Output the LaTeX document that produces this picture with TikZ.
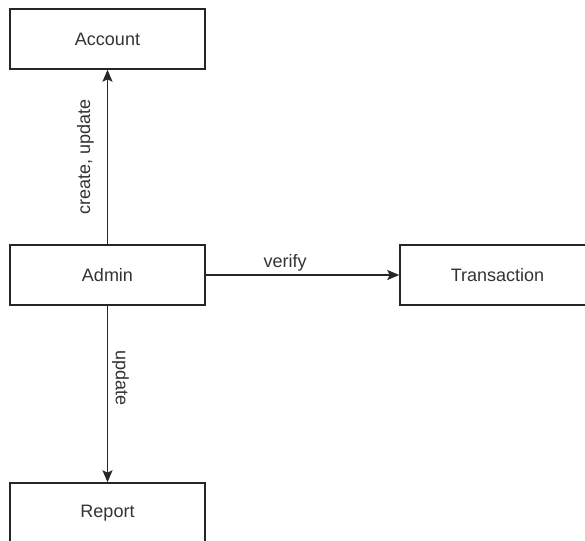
\documentclass[tikz,border=0pt]{standalone}
\usepackage{fontspec}
\setmainfont{Liberation Sans}
\usetikzlibrary{arrows.meta}
\definecolor{linegray}{HTML}{262626}
\definecolor{textgray}{HTML}{333333}
\begin{document}
\begin{tikzpicture}[x=1pt,y=-1pt,
  box/.style={draw=linegray, line width=1.5pt, minimum width=195pt, minimum height=60pt, inner sep=0pt, font=\fontsize{18}{20}\selectfont, text=textgray},
  conn/.style={draw=linegray, line width=1.5pt, -{Stealth[length=12pt,width=10pt,inset=2.5pt]}},
  lbl/.style={font=\fontsize{18}{20}\selectfont, text=textgray, inner sep=1pt}]
\useasboundingbox (0,0) rectangle (585,540);
\clip (0,0) rectangle (585,540);
\node[box] (account) at (107.5,39) {Account};
\node[box] (admin) at (107.5,275) {Admin};
\node[box] (trans) at (497.5,275) {Transaction};
\node[box] (report) at (107.5,513) {Report};
\draw[conn] (admin) -- node[lbl, xshift=-22pt, rotate=90] {create, update} (account);
\draw[conn] (admin) -- node[lbl, pos=0.41, xshift=13pt, rotate=-90] {update} (report);
\draw[conn] (admin) -- node[lbl, pos=0.41, yshift=12pt] {verify} (trans);
\end{tikzpicture}
\end{document}
